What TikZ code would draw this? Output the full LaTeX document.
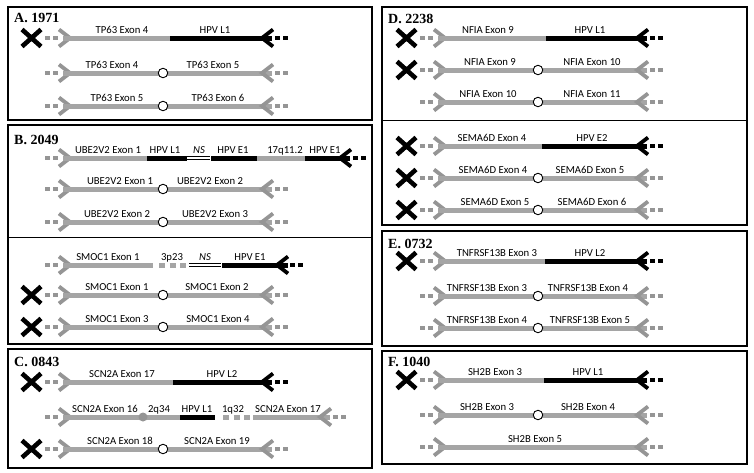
\documentclass[tikz,border=0pt]{standalone}
\usepackage{fontspec}
\setmainfont{Carlito}
\newfontfamily\hptitlefont{Liberation Serif}
\definecolor{gline}{HTML}{A5A5A5}
\definecolor{gchev}{HTML}{959595}
\tikzset{
 seg/.style={line width=5pt},
 chevron/.style={line width=3.8pt, line join=miter},
 dotline/.style={line width=4.5pt, dash pattern=on 4.5pt off 3.5pt},
 xmk/.style={line width=4.6pt, black},
 junc/.style={circle, draw=black, fill=white, line width=0.9pt, inner sep=0pt, minimum size=9.5pt},
 gjunc/.style={circle, fill=gchev, inner sep=0pt, minimum size=9pt},
 lbl/.style={anchor=base, inner sep=0pt, font=\fontsize{10.7}{12}\selectfont},
 ttl/.style={anchor=west, inner sep=0pt, font=\hptitlefont\bfseries\fontsize{14}{14}\selectfont},
 panel/.style={draw=black, line width=1.3pt},
 divider/.style={draw=black, line width=0.8pt},
 nsline/.style={line width=1.1pt, double=white, double distance=1.8pt},
 gapdash/.style={line width=5pt, gline, dash pattern=on 6pt off 4.5pt},
}
% left dotted stub + chevron
\newcommand\hpL[1]{%
 \draw[dotline,gchev] (45,#1) -- (58,#1);
 \draw[chevron,gchev] (59,#1-8.5) -- (70,#1) -- (59,#1+8.5);}
% right chevron + dotted stub: vertex x, y, colour
\newcommand\hpR[3]{%
 \draw[chevron,#3] (#1+11,#2-8.5) -- (#1,#2) -- (#1+11,#2+8.5);
 \draw[dotline,#3] (#1+13,#2) -- (#1+26,#2);}
\newcommand\hpX[1]{%
 \draw[xmk] (22,#1-8.5) -- (41,#1+8.5) (22,#1+8.5) -- (41,#1-8.5);}
\newcommand\hpLab[3]{\node[lbl] at (#1,#2-4.5) {#3};}
% normal splice row: y, lx, ltext, rx, rtext
\newcommand\hpCirc[5]{%
 \hpL{#1}
 \draw[seg,gline] (63,#1) -- (272,#1);
 \hpR{262}{#1}{gchev}
 \node[junc] at (163,#1) {};
 \hpLab{#2}{#1}{#3}
 \hpLab{#4}{#1}{#5}}
% fusion row: y, junction, lx, ltext, rx, rtext
\newcommand\hpFus[6]{%
 \hpL{#1}
 \draw[seg,gline] (63,#1) -- (#2,#1);
 \draw[seg,black] (#2,#1) -- (272,#1);
 \hpR{262}{#1}{black}
 \hpLab{#3}{#1}{#4}
 \hpLab{#5}{#1}{#6}}
\begin{document}
\begin{tikzpicture}[x=1pt,y=-1pt]
\useasboundingbox (0,0) rectangle (754,472);
\fill[white] (0,0) rectangle (754,472);

% ---------- Panel A ----------
\draw[panel] (8,7) rectangle (372,120);
\node[ttl] (tA) at (14,18) {A. 1971};
\hpX{38}
\hpFus{38}{170}{122}{TP63 Exon 4}{215}{HPV L1}
\hpCirc{73}{112}{TP63 Exon 4}{213}{TP63 Exon 5}
\hpCirc{106}{117}{TP63 Exon 5}{218}{TP63 Exon 6}

% ---------- Panel B ----------
\draw[panel] (8,125) rectangle (372,344);
\draw[divider] (8,237) -- (372,237);
\node[ttl] (tB) at (14,140) {B. 2049};
\hpL{158}
\draw[seg,gline] (63,158) -- (147,158);
\draw[seg,black] (147,158) -- (187,158);
\draw[nsline] (187,158) -- (210,158);
\draw[seg,black] (211,158) -- (257,158);
\draw[seg,gline] (257,158) -- (305,158);
\draw[seg,black] (305,158) -- (350,158);
\hpR{340}{158}{black}
\hpLab{108}{158}{UBE2V2 Exon 1}
\hpLab{165}{158}{HPV L1}
\hpLab{199}{158}{\textit{NS}}
\hpLab{233}{158}{HPV E1}
\hpLab{285}{158}{17q11.2}
\hpLab{325}{158}{HPV E1}
\hpCirc{189}{120}{UBE2V2 Exon 1}{210}{UBE2V2 Exon 2}
\hpCirc{222}{117}{UBE2V2 Exon 2}{215}{UBE2V2 Exon 3}

\hpL{265}
\draw[seg,gline] (63,265) -- (153,265);
\draw[gapdash] (159,265) -- (187,265);
\draw[nsline] (189,265) -- (221,265);
\draw[seg,black] (222,265) -- (288,265);
\hpR{277}{265}{black}
\hpLab{108}{265}{SMOC1 Exon 1}
\hpLab{172}{265}{3p23}
\hpLab{205}{265}{\textit{NS}}
\hpLab{250}{265}{HPV E1}
\hpX{295}
\hpCirc{295}{117}{SMOC1 Exon 1}{217}{SMOC1 Exon 2}
\hpX{327}
\hpCirc{327}{117}{SMOC1 Exon 3}{218}{SMOC1 Exon 4}

% ---------- Panel C ----------
\draw[panel] (8,349) rectangle (372,468);
\node[ttl] (tC) at (14,362) {C. 0843};
\hpX{382}
\hpFus{382}{173}{122}{SCN2A Exon 17}{222}{HPV L2}
\hpL{417}
\draw[seg,gline] (63,417) -- (180,417);
\node[gjunc] at (143,417) {};
\draw[seg,black] (180,417) -- (215,417);
\draw[gapdash] (223,417) -- (252,417);
\draw[seg,gline] (253,417) -- (330,417);
\hpR{320}{417}{gchev}
\hpLab{105}{417}{SCN2A Exon 16}
\hpLab{159}{417}{2q34}
\hpLab{197}{417}{HPV L1}
\hpLab{233}{417}{1q32}
\hpLab{288}{417}{SCN2A Exon 17}
\hpX{449}
\hpCirc{449}{120}{SCN2A Exon 18}{217}{SCN2A Exon 19}

\begin{scope}[xshift=375pt]
% ---------- Panel D ----------
\draw[panel] (7,7) rectangle (372,225);
\draw[divider] (7,120) -- (372,120);
\node[ttl] (tD) at (13,19) {D. 2238};
\hpX{38}
\hpFus{38}{171}{113}{NFIA Exon 9}{215}{HPV L1}
\hpX{70}
\hpCirc{70}{115}{NFIA Exon 9}{217}{NFIA Exon 10}
\hpCirc{102}{113}{NFIA Exon 10}{217}{NFIA Exon 11}
\hpX{146}
\hpFus{146}{167}{117}{SEMA6D Exon 4}{217}{HPV E2}
\hpX{178}
\hpCirc{178}{118}{SEMA6D Exon 4}{215}{SEMA6D Exon 5}
\hpX{210}
\hpCirc{210}{120}{SEMA6D Exon 5}{217}{SEMA6D Exon 6}

% ---------- Panel E ----------
\draw[panel] (7,231) rectangle (372,346);
\node[ttl] (tE) at (13,244) {E. 0732};
\hpX{261}
\hpFus{261}{170}{122}{TNFRSF13B Exon 3}{215}{HPV L2}
\hpCirc{296}{112}{TNFRSF13B Exon 3}{213}{TNFRSF13B Exon 4}
\hpCirc{328}{112}{TNFRSF13B Exon 4}{215}{TNFRSF13B Exon 5}

% ---------- Panel F ----------
\draw[panel] (7,351) rectangle (372,464);
\node[ttl] (tF) at (13,362) {F. 1040};
\hpX{380}
\hpFus{380}{169}{120}{SH2B Exon 3}{213}{HPV L1}
\hpCirc{415}{112}{SH2B Exon 3}{213}{SH2B Exon 4}
\hpL{447}
\draw[seg,gline] (63,447) -- (272,447);
\hpR{262}{447}{gchev}
\hpLab{160}{447}{SH2B Exon 5}
\end{scope}
\end{tikzpicture}
\end{document}
